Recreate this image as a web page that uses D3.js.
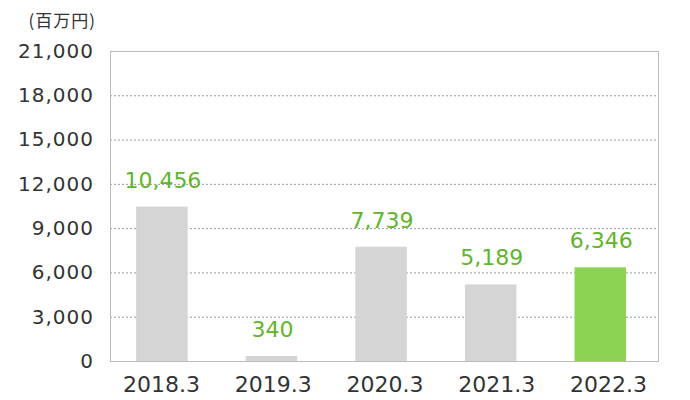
<!DOCTYPE html>
<html>
<head>
<meta charset="utf-8">
<script src="https://cdn.jsdelivr.net/npm/d3@7"></script>
<style>
  body { margin: 0; background: #fff; }
  svg text { font-family: "DejaVu Sans", "Noto Sans CJK JP", sans-serif; }
</style>
</head>
<body>
<div id="chart"></div>
<script>
var categories = ["2018.3", "2019.3", "2020.3", "2021.3", "2022.3"];
var values = [10456, 340, 7739, 5189, 6346];
var tickValues = [0, 3000, 6000, 9000, 12000, 15000, 18000, 21000];
var unitLabel = "(百万円)";

var svgWidth = 690;
var svgHeight = 400;
var margin = { top: 51, right: 32, bottom: 39, left: 110 };
var chartwidth = svgWidth - margin.left - margin.right;
var chartheight = svgHeight - margin.top - margin.bottom;

var svg = d3.select("#chart")
  .append("svg")
  .attr("width", svgWidth)
  .attr("height", svgHeight);

var chartGroup = svg.append("g")
  .attr("transform", `translate(${margin.left}, ${margin.top})`);

var x = d3.scaleBand()
  .domain(categories)
  .range([0, chartwidth])
  .paddingInner(0.53)
  .paddingOuter(0.265)
  .align(0.45);

// category labels sit on a slightly wider spacing than the bars
var xLabel = d3.scalePoint()
  .domain(categories)
  .range([51, 498]);

var y = d3.scaleLinear()
  .domain([0, 21000])
  .range([chartheight, 0]);

// gridlines
chartGroup.selectAll("line.grid")
  .data(tickValues.filter(d => d > 0 && d < 21000))
  .enter()
  .append("line")
  .attr("class", "grid")
  .attr("x1", 0)
  .attr("x2", chartwidth)
  .attr("y1", d => y(d) + 0.5)
  .attr("y2", d => y(d) + 0.5)
  .attr("stroke", "#999")
  .attr("stroke-dasharray", "2,2");

// border
chartGroup.append("rect")
  .attr("x", 0.5)
  .attr("y", 0.5)
  .attr("width", chartwidth)
  .attr("height", chartheight)
  .attr("fill", "none")
  .attr("stroke", "#bbb");

// bars
chartGroup.selectAll("rect.bar")
  .data(values)
  .enter()
  .append("rect")
  .attr("class", "bar")
  .attr("x", (d, i) => x(categories[i]))
  .attr("y", d => y(d))
  .attr("width", x.bandwidth())
  .attr("height", d => chartheight - y(d))
  .attr("fill", (d, i) => i === values.length - 1 ? "#8dd353" : "#d5d5d5");

// value labels
chartGroup.selectAll("text.val")
  .data(values)
  .enter()
  .append("text")
  .attr("class", "val")
  .attr("x", (d, i) => x(categories[i]) + x.bandwidth() / 2 + 1)
  .attr("y", d => y(d) - 19)
  .attr("text-anchor", "middle")
  .attr("font-size", "22px")
  .attr("fill", "#5fb52c")
  .text(d => d3.format(",")(d));

// y axis labels
var leftAxis = d3.axisLeft(y).tickValues(tickValues).tickFormat(d3.format(",")).tickSize(0).tickPadding(16);
var yAxis = chartGroup.append("g").call(leftAxis);
yAxis.select(".domain").remove();
yAxis.selectAll("text")
  .attr("font-size", "20px")
  .attr("letter-spacing", "1px")
  .attr("fill", "#333")
  .style("font-family", "\"DejaVu Sans\", sans-serif");

// x axis labels
var bottomAxis = d3.axisBottom(xLabel).tickSize(0).tickPadding(15);
var xAxis = chartGroup.append("g")
  .attr("transform", `translate(0, ${chartheight})`)
  .call(bottomAxis);
xAxis.select(".domain").remove();
xAxis.selectAll("text")
  .attr("font-size", "22px")
  .attr("fill", "#333")
  .style("font-family", "\"DejaVu Sans\", sans-serif");

// unit label
svg.append("text")
  .attr("x", 96)
  .attr("y", 27)
  .attr("text-anchor", "end")
  .attr("font-size", "17px")
  .attr("letter-spacing", "1px")
  .attr("fill", "#333")
  .style("font-family", "\"Noto Sans CJK JP\", sans-serif")
  .text(unitLabel);
</script>
</body>
</html>
